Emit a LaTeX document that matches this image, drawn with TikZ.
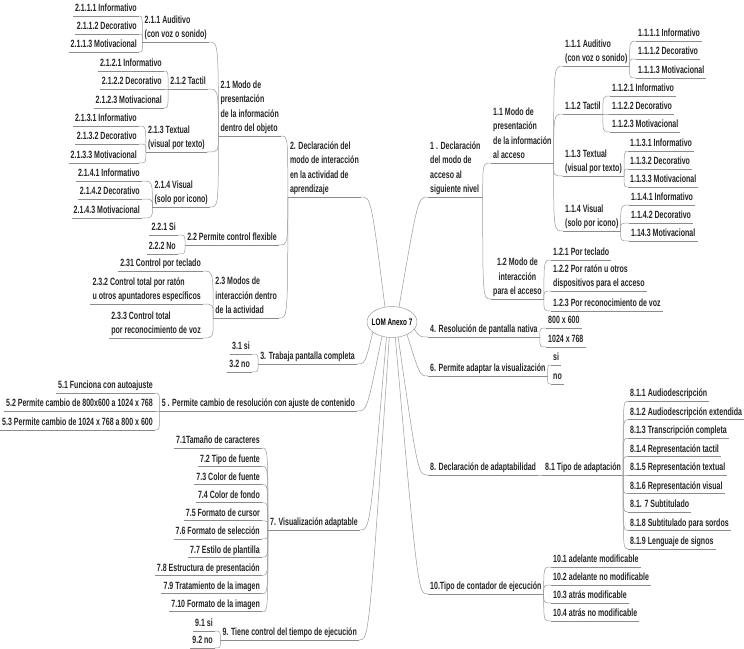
\documentclass[tikz,border=0pt]{standalone}
\usepackage{fontspec}
\newfontfamily\mapfont[FakeStretch=0.67]{Liberation Sans}
\usetikzlibrary{shapes.geometric}

\begin{document}
\begin{tikzpicture}[
    x=1pt, y=-1pt,
    topic/.style={font=\mapfont\bfseries\fontsize{10.5}{14.5}\selectfont, text=black!85,
        align=left, inner xsep=2pt, inner ysep=1.5pt, text depth=2.5pt,
        append after command={(\tikzlastnode.south west) edge[uline]
            (\tikzlastnode.south east)}},
    rt/.style={topic, anchor=south west},
    lt/.style={topic, anchor=south east},
    uline/.style={draw=black!45, line width=0.8pt},
    link/.style={draw=black!40, line width=0.5pt,
        to path={.. controls (\tikztostart |- \tikztotarget) .. (\tikztotarget)}},
    hublink/.style={draw=black!40, line width=0.5pt,
        to path={.. controls ([xshift=#1]\tikztotarget) .. (\tikztotarget)}},
    hub/.style={ellipse, draw=black!45, fill=white, inner xsep=-6pt, inner ysep=0pt,
        minimum width=50pt, minimum height=31pt,
        font=\mapfont\bfseries\fontsize{9.5}{12}\selectfont},
]
\fill[white] (0,0) rectangle (744,648);
\useasboundingbox (0,0) rectangle (744,648);

% central topic
\node[hub] (lom) at (392,322) {LOM Anexo 7};

% 1. acceso al siguiente nivel
\node[rt] (t1) at (428,197) {1 . Declaración\\del modo de\\acceso al\\siguiente nivel};
\node[rt] (t11) at (491,163) {1.1 Modo de\\presentación\\de la información\\al acceso};
\node[rt] (t111) at (563,66) {1.1.1 Auditivo\\(con voz o sonido)};
\node[rt] (t112) at (563,114) {1.1.2 Tactil};
\node[rt] (t113) at (563,176) {1.1.3 Textual\\(visual por texto)};
\node[rt] (t114) at (563,231) {1.1.4 Visual\\(solo por icono)};
\draw[hublink=-10pt] (lom.65) to (t1.south west);
\draw[link] (t1.south east) to (t11.south west);
\foreach \n in {t111,t112,t113,t114}
    \draw[link] (t11.south east) to (\n.south west);

\foreach \txt/\y [count=\i] in {1.1.1.1 Informativo/41, 1.1.1.2 Decorativo/59,
        1.1.1.3 Motivacional/78} {
    \node[rt] (t111\i) at (636,\y) {\txt};
    \draw[link] (t111.south east) to (t111\i.south west);
}
\foreach \txt/\y [count=\i] in {1.1.2.1 Informativo/96, 1.1.2.2 Decorativo/114,
        1.1.2.3 Motivacional/132} {
    \node[rt] (t112\i) at (610,\y) {\txt};
    \draw[link] (t112.south east) to (t112\i.south west);
}
\foreach \txt/\y [count=\i] in {1.1.3.1 Informativo/151, 1.1.3.2 Decorativo/169,
        1.1.3.3 Motivacional/187} {
    \node[rt] (t113\i) at (628,\y) {\txt};
    \draw[link] (t113.south east) to (t113\i.south west);
}
\foreach \txt/\y [count=\i] in {1.1.4.1 Informativo/205, 1.1.4.2 Decorativo/223,
        1.14.3 Motivacional/241} {
    \node[rt] (t114\i) at (629,\y) {\txt};
    \draw[link] (t114.south east) to (t114\i.south west);
}

\node[rt, align=center] (t12) at (491,299) {1.2 Modo de\\interacción\\para el acceso};
\draw[link] (t1.south east) to (t12.south west);
\foreach \txt/\y [count=\i] in {1.2.1 Por teclado/260,
        1.2.2 Por ratón u otros\\dispositivos para el acceso/291,
        1.2.3 Por reconocimiento de voz/311} {
    \node[rt] (t12\i) at (551,\y) {\txt};
    \draw[link] (t12.south east) to (t12\i.south west);
}

% 4. and 6.
\node[rt] (t4) at (428,337) {4. Resolución de pantalla nativa};
\draw[hublink=-8pt] (lom.-18) to (t4.south west);
\foreach \txt/\y [count=\i] in {800 x 600/328, 1024 x 768/347} {
    \node[rt] (t4\i) at (546,\y) {\txt};
    \draw[link] (t4.south east) to (t4\i.south west);
}
\node[rt] (t6) at (428,376) {6. Permite adaptar la visualización};
\draw[hublink=-8pt] (lom.-40) to (t6.south west);
\foreach \txt/\y [count=\i] in {si/365, no/384} {
    \node[rt] (t6\i) at (551,\y) {\txt};
    \draw[link] (t6.south east) to (t6\i.south west);
}

% 8. adaptabilidad
\node[rt] (t8) at (428,475) {8. Declaración de adaptabilidad};
\node[rt] (t81) at (543,475) {8.1 Tipo de adaptación};
\draw[hublink=-10pt] (lom.-68) to (t8.south west);
\draw[link] (t8.south east) to (t81.south west);
\foreach \txt [count=\i] in {8.1.1 Audiodescripción, 8.1.2 Audiodescripción extendida,
        8.1.3 Transcripción completa, 8.1.4 Representación tactil,
        8.1.5 Representación textual, 8.1.6 Representación visual,
        8.1. 7 Subtitulado, 8.1.8 Subtitulado para sordos,
        8.1.9 Lenguaje de signos} {
    \node[rt] (t81\i) at (628,{401+18.5*(\i-1)}) {\txt};
    \draw[link] (t81.south east) to (t81\i.south west);
}

% 10. contador
\node[rt] (t10) at (428,594) {10.Tipo de contador de ejecución};
\draw[hublink=-10pt] (lom.-78) to (t10.south west);
\foreach \txt [count=\i] in {10.1 adelante modificable, 10.2 adelante no modificable,
        10.3 atrás modificable, 10.4 atrás no modificable} {
    \node[rt] (t10\i) at (551,{567+18*(\i-1)}) {\txt};
    \draw[link] (t10.south east) to (t10\i.south west);
}

% 2. modo de interaccion
\node[lt] (t2) at (361,197) {2. Declaración del\\modo de interacción\\en la actividad de\\aprendizaje};
\node[lt] (t21) at (281,136) {2.1 Modo de\\presentación\\de la información\\dentro del objeto};
\node[lt] (t211) at (209,42) {2.1.1 Auditivo\\(con voz o sonido)};
\node[lt] (t212) at (208,89) {2.1.2 Tactil};
\node[lt] (t213) at (207,152) {2.1.3 Textual\\(visual por texto)};
\node[lt] (t214) at (210,207) {2.1.4 Visual\\(solo por icono)};
\draw[hublink=10pt] (lom.115) to (t2.south east);
\draw[link] (t2.south west) to (t21.south east);
\foreach \n in {t211,t212,t213,t214}
    \draw[link] (t21.south west) to (\n.south east);

\foreach \txt/\y [count=\i] in {2.1.1.1 Informativo/16, 2.1.1.2 Decorativo/34,
        2.1.1.3 Motivacional/52} {
    \node[lt] (t211\i) at (139,\y) {\txt};
    \draw[link] (t211.south west) to (t211\i.south east);
}
\foreach \txt/\y [count=\i] in {2.1.2.1 Informativo/71, 2.1.2.2 Decorativo/89,
        2.1.2.3 Motivacional/108} {
    \node[lt] (t212\i) at (164,\y) {\txt};
    \draw[link] (t212.south west) to (t212\i.south east);
}
\foreach \txt/\y [count=\i] in {2.1.3.1 Informativo/126, 2.1.3.2 Decorativo/144,
        2.1.3.3 Motivacional/163} {
    \node[lt] (t213\i) at (139,\y) {\txt};
    \draw[link] (t213.south west) to (t213\i.south east);
}
\foreach \txt/\y [count=\i] in {2.1.4.1 Informativo/181, 2.1.4.2 Decorativo/199,
        2.1.4.3 Motivacional/218} {
    \node[lt] (t214\i) at (142,\y) {\txt};
    \draw[link] (t214.south west) to (t214\i.south east);
}

\node[lt] (t22) at (279,245) {2.2 Permite control flexible};
\draw[link] (t2.south west) to (t22.south east);
\foreach \txt/\y [count=\i] in {2.2.1 Si/235, 2.2.2 No/254} {
    \node[lt] (t22\i) at (178,\y) {\txt};
    \draw[link] (t22.south west) to (t22\i.south east);
}
\node[lt] (t23) at (279,318) {2.3 Modos de\\interacción dentro\\de la actividad};
\draw[link] (t2.south west) to (t23.south east);
\foreach \txt/\y [count=\i] in {2.31 Control por teclado/271,
        2.3.2 Control total por ratón\\u otros apuntadores específicos/304,
        2.3.3 Control total\\por reconocimiento de voz/338} {
    \node[lt] (t23\i) at (203,\y) {\txt};
    \draw[link] (t23.south west) to (t23\i.south east);
}

% 3. and 5.
\node[lt] (t3) at (357,364) {3. Trabaja pantalla completa};
\draw[hublink=8pt] (lom.-152) to (t3.south east);
\foreach \txt/\y [count=\i] in {3.1 si/354, 3.2 no/372} {
    \node[lt] (t3\i) at (252,\y) {\txt};
    \draw[link] (t3.south west) to (t3\i.south east);
}
\node[lt] (t5) at (357,411) {5 . Permite cambio de resolución con ajuste de contenido};
\draw[hublink=10pt] (lom.-125) to (t5.south east);
\foreach \txt/\y [count=\i] in {5.1 Funciona con autoajuste/393,
        5.2 Permite cambio de 800x600 a 1024 x 768/411,
        5.3 Permite cambio de 1024 x 768 a 800 x 600/430} {
    \node[lt] (t5\i) at (155,\y) {\txt};
    \draw[link] (t5.south west) to (t5\i.south east);
}

% 7. visualizacion adaptable
\node[lt] (t7) at (360,530) {7. Visualización adaptable};
\draw[hublink=10pt] (lom.-110) to (t7.south east);
\foreach \txt [count=\i] in {7.1Tamaño de caracteres, 7.2 Tipo de fuente,
        7.3 Color de fuente, 7.4 Color de fondo, 7.5 Formato de cursor,
        7.6 Formato de selección, 7.7 Estilo de plantilla,
        7.8 Estructura de presentación, 7.9 Tratamiento de la imagen,
        7.10 Formato de la imagen} {
    \node[lt] (t7\i) at (262,{448+18.2*(\i-1)}) {\txt};
    \draw[link] (t7.south west) to (t7\i.south east);
}

% 9. tiempo de ejecucion
\node[lt] (t9) at (359,640) {9. Tiene control del tiempo de ejecución};
\draw[hublink=10pt] (lom.-100) to (t9.south east);
\foreach \txt/\y [count=\i] in {9.1 si/631, 9.2 no/648} {
    \node[lt] (t9\i) at (215,\y) {\txt};
    \draw[link] (t9.south west) to (t9\i.south east);
}

\end{tikzpicture}
\end{document}
